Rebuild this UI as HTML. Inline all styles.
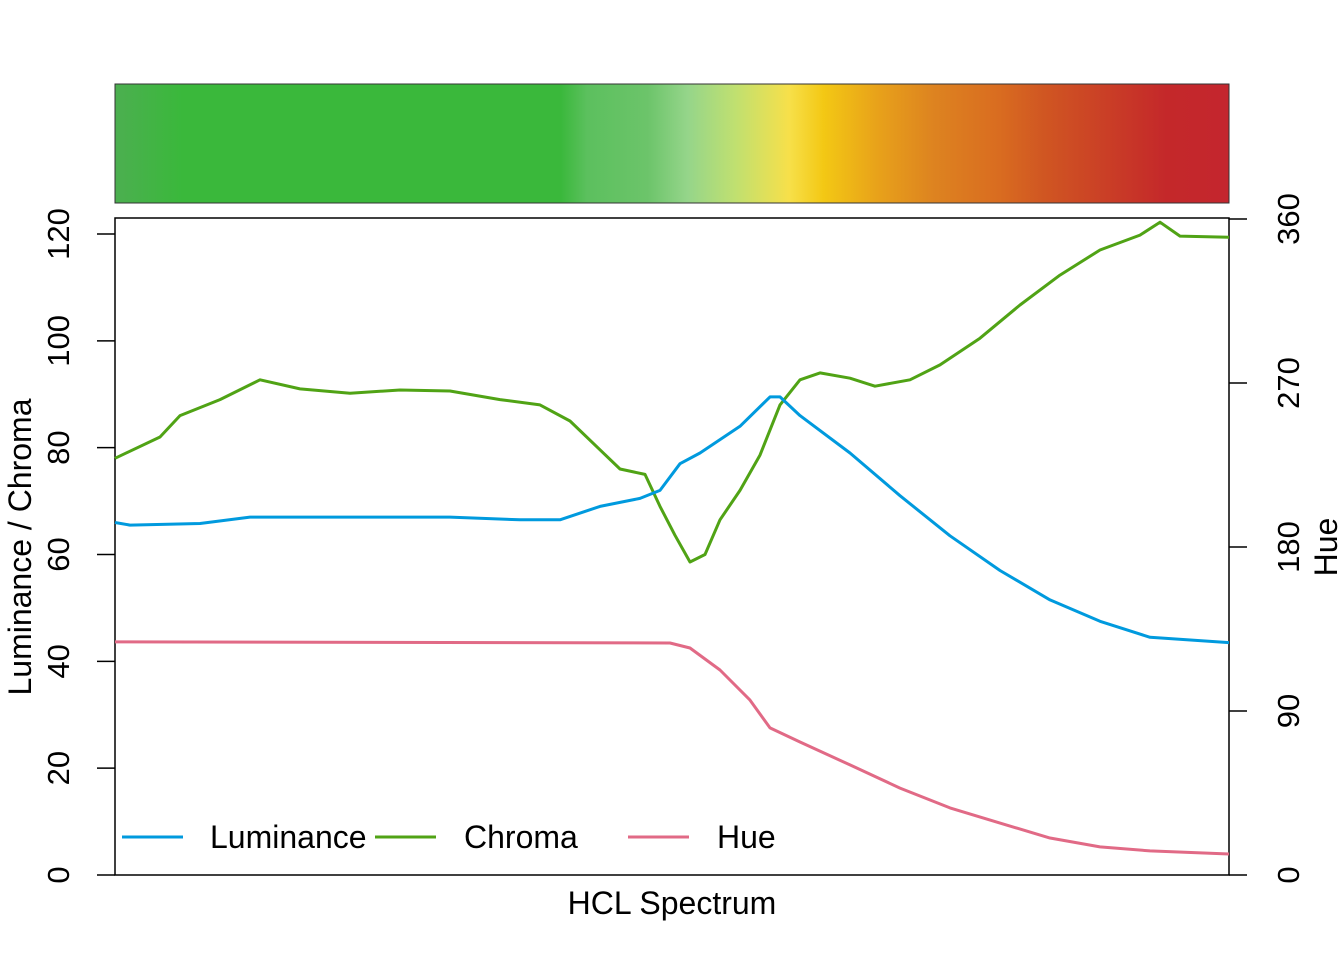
<!DOCTYPE html>
<html><head><meta charset="utf-8"><style>
html,body{margin:0;padding:0;background:#fff;}
svg{display:block;font-family:"Liberation Sans",Arial,sans-serif;}
</style></head><body>
<svg id="c" width="1344" height="960" viewBox="0 0 1344 960">
<defs>
<linearGradient id="g" x1="0" x2="1" y1="0" y2="0">
<stop offset="0" stop-color="#4caf50"/>
<stop offset="0.06" stop-color="#3ab83b"/>
<stop offset="0.40" stop-color="#3ab83b"/>
<stop offset="0.424" stop-color="#5cc05e"/>
<stop offset="0.478" stop-color="#6cc46a"/>
<stop offset="0.514" stop-color="#95d58a"/>
<stop offset="0.557" stop-color="#c0e070"/>
<stop offset="0.605" stop-color="#f7e04a"/>
<stop offset="0.636" stop-color="#f3c814"/>
<stop offset="0.684" stop-color="#e8a21a"/>
<stop offset="0.735" stop-color="#dd8320"/>
<stop offset="0.794" stop-color="#d96c20"/>
<stop offset="0.834" stop-color="#d05622"/>
<stop offset="0.944" stop-color="#c4282a"/>
<stop offset="1" stop-color="#c4262e"/>
</linearGradient>
</defs>
<rect x="115" y="84" width="1114" height="119" fill="url(#g)" stroke="#333" stroke-width="1"/>
<g id="plot"></g>
</svg>
<script>
const lumX=[115,130,200,250,350,450,520,560,600,640,660,680,700,740,770,780,800,850,900,950,1000,1050,1100,1150,1229];
const luminance=[66,65.5,65.8,67,67,67,66.5,66.5,69,70.5,72,77,79,84,89.5,89.5,86,79,71,63.5,57,51.5,47.5,44.5,43.5];
const chrX=[115,160,180,220,260,300,350,400,450,500,540,570,600,620,645,660,675,690,705,720,740,760,780,800,820,850,875,910,940,980,1020,1060,1100,1140,1160,1180,1229];
const chroma=[78,82,86,89,92.7,91,90.2,90.8,90.6,89,88,85,79.6,76,75,69,63.6,58.6,60,66.5,72,78.6,88,92.7,94,93,91.5,92.7,95.5,100.5,106.7,112.3,117,119.8,122.2,119.6,119.4];
const hueX=[115,670,690,720,750,770,800,850,900,950,1000,1050,1100,1150,1229];
const hue=[127.9,127.3,124.6,112.5,96,80.7,73,60.4,47.7,36.8,28.5,20.3,15.4,13.2,11.5];
const leftTicks=[0,20,40,60,80,100,120];
const rightTicks=[0,90,180,270,360];

const X0=115,X1=1229,Y0=875;
const yL=v=>Y0-v*(641/120);
const yR=v=>Y0-v*(164/90);
const xS=p=>X0+(p-115)*(X1-X0)/(1229-115);
const ns="http://www.w3.org/2000/svg";
const g=document.getElementById('plot');
function mk(t,a,txt){const e=document.createElementNS(ns,t);for(const k in a)e.setAttribute(k,a[k]);if(txt!==undefined)e.textContent=txt;g.appendChild(e);return e;}

let fr=mk('rect',{x:115,y:218,width:1114,height:657,fill:'none',stroke:'#000','stroke-width':1.5});



function series(xs,vs,f,col,name){
  const d=xs.map((x,i)=>(i?'L':'M')+xS(x).toFixed(1)+','+f(vs[i]).toFixed(1)).join(' ');
  const p=mk('path',{d:d,fill:'none',stroke:col,'stroke-width':3,'stroke-linejoin':'round'});
  
  
}
series(hueX,hue,yR,'#e16a86','hue-line');
series(chrX,chroma,yL,'#50a315','chroma-line');
series(lumX,luminance,yL,'#009ade','luminance-line');

leftTicks.forEach(v=>{
  const y=yL(v);
  let t=mk('line',{x1:97,x2:115,y1:y,y2:y,stroke:'#000','stroke-width':1.5});
  
  
  let l=mk('text',{x:0,y:0,transform:`translate(69,${y}) rotate(-90)`,'text-anchor':'middle','font-size':31},String(v));
  
  
});
rightTicks.forEach(v=>{
  const y=yR(v);
  let t=mk('line',{x1:1229,x2:1247,y1:y,y2:y,stroke:'#000','stroke-width':1.5});
  
  
  let l=mk('text',{x:0,y:0,transform:`translate(1299,${y}) rotate(-90)`,'text-anchor':'middle','font-size':31},String(v));
  
  
});
let yt=mk('text',{x:0,y:0,transform:'translate(31,547) rotate(-90)','text-anchor':'middle','font-size':32},'Luminance / Chroma');


let rt=mk('text',{x:0,y:0,transform:'translate(1337,547) rotate(-90)','text-anchor':'middle','font-size':32},'Hue');


let xt=mk('text',{x:672,y:914,'text-anchor':'middle','font-size':32},'HCL Spectrum');



const legs=[['Luminance','#009ade',122,210],['Chroma','#50a315',375,464],['Hue','#e16a86',628,717]];
legs.forEach(([n,c,lx,tx])=>{
  let l=mk('line',{x1:lx,x2:lx+61,y1:837,y2:837,stroke:c,'stroke-width':3});
  
  
  let t=mk('text',{x:tx,y:848,'font-size':32},n);
  
  
});
</script>
</body></html>
